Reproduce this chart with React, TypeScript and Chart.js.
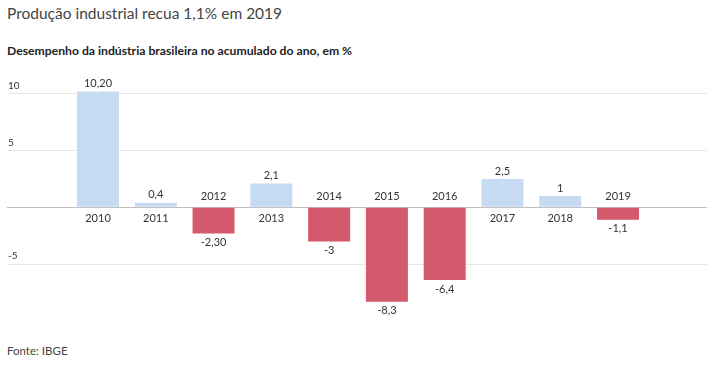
import React, { useEffect, useRef } from "react";
import { Chart, registerables } from "chart.js";

Chart.register(...registerables);

const YEARS = [2010, 2011, 2012, 2013, 2014, 2015, 2016, 2017, 2018, 2019];
const VALUES = [10.2, 0.4, -2.3, 2.1, -3, -8.3, -6.4, 2.5, 1, -1.1];
const VALUE_LABELS = ["10,20", "0,4", "-2,30", "2,1", "-3", "-8,3", "-6,4", "2,5", "1", "-1,1"];
const Y_TICKS = [-5, 0, 5, 10];

const TITLE = "Produção industrial recua 1,1% em 2019";
const SUBTITLE = "Desempenho da indústria brasileira no acumulado do ano, em %";
const SOURCE = "Fonte: IBGE";

const FONT = "Lato, 'Noto Sans', sans-serif";
const POS_COLOR = "#c6dbf2";
const NEG_COLOR = "#d4596d";
const TEXT_COLOR = "#333333";

const labelsPlugin = {
  id: "barLabels",
  afterDatasetsDraw(chart: any) {
    const ctx = chart.ctx;
    const meta = chart.getDatasetMeta(0);
    const yScale = chart.scales.y;
    const zero = yScale.getPixelForValue(0);
    ctx.save();
    ctx.fillStyle = TEXT_COLOR;
    ctx.textAlign = "center";
    ctx.textBaseline = "middle";
    ctx.font = `11px ${FONT}`;
    meta.data.forEach((el: any, i: number) => {
      const v = VALUES[i];
      if (v >= 0) {
        ctx.fillText(VALUE_LABELS[i], el.x, el.y - 8);
        ctx.fillText(String(YEARS[i]), el.x, zero + 11);
      } else {
        ctx.fillText(VALUE_LABELS[i], el.x, el.y + 9);
        ctx.fillText(String(YEARS[i]), el.x, zero - 11);
      }
    });
    ctx.textAlign = "left";
    ctx.font = `10px ${FONT}`;
    Y_TICKS.forEach((t) => {
      if (t === 0) return;
      const y = yScale.getPixelForValue(t);
      ctx.fillText(String(t), chart.chartArea.left + 1, y - 8);
    });
    ctx.restore();
  },
};

export default function App() {
  const ref = useRef<HTMLCanvasElement>(null);
  useEffect(() => {
    if (!ref.current) return;
    const chart = new Chart(ref.current, {
      type: "bar",
      data: {
        labels: YEARS.map(String),
        datasets: [
          {
            data: VALUES,
            backgroundColor: VALUES.map((v) => (v >= 0 ? POS_COLOR : NEG_COLOR)),
            borderWidth: 0,
            categoryPercentage: 1,
            barPercentage: 0.727,
          },
        ],
      },
      options: {
        responsive: false,
        animation: false,
        layout: { padding: 0 },
        plugins: {
          legend: { display: false },
          tooltip: { enabled: false },
          title: { display: false },
        },
        scales: {
          x: {
            type: "linear",
            display: false,
            offset: false,
            min: 2010 - 1.575,
            max: 2019 + 1.54,
          },
          y: {
            min: -10,
            max: 12,
            afterBuildTicks: (s: any) => {
              s.ticks = Y_TICKS.map((v) => ({ value: v }));
            },
            ticks: { display: false },
            border: { display: false },
            grid: {
              drawTicks: false,
              color: (c: any) => (c.tick && c.tick.value === 0 ? "#c0c0c0" : "#e6e6e6"),
              lineWidth: 1,
            },
          },
        },
      },
      plugins: [labelsPlugin],
    });
    return () => chart.destroy();
  }, []);

  return (
    <div style={{ position: "absolute", left: 0, top: 0, width: 723, height: 375, background: "#fff", fontFamily: FONT, color: TEXT_COLOR }}>
      <div style={{ position: "absolute", left: 7, top: 4, fontSize: 15.5, fontWeight: 400, whiteSpace: "nowrap", color: "#444" }}>{TITLE}</div>
      <div style={{ position: "absolute", left: 7, top: 43, fontSize: 12.2, fontWeight: 700, whiteSpace: "nowrap", color: "#222" }}>{SUBTITLE}</div>
      <canvas ref={ref} width={700} height={250} style={{ position: "absolute", left: 7, top: 71, width: 700, height: 250 }} />
      <div style={{ position: "absolute", left: 7, top: 344, fontSize: 11.5, fontWeight: 400, whiteSpace: "nowrap", color: "#444" }}>{SOURCE}</div>
    </div>
  );
}
